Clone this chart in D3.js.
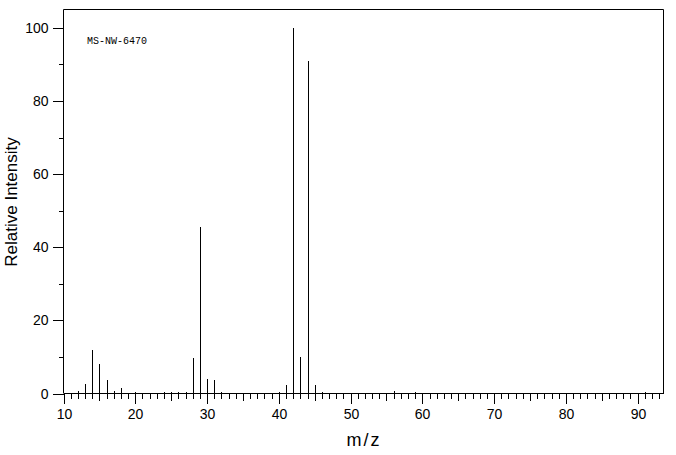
<!DOCTYPE html>
<html><head><meta charset="utf-8">
<script src="https://cdn.jsdelivr.net/npm/d3@7/dist/d3.min.js"></script>
<style>
html,body{margin:0;padding:0;background:#fff;}
svg text{fill:#000;}
</style></head>
<body><svg id="c" width="676" height="455"></svg>
<script>
const mz =        [12, 13, 14,   15,  16,  17,  18,  20,  24,  25,  26,  27,  28,  29,   30,  31,  32,  40,  41,  42,  43,  44,   45,  46,  56,  59,  91];
const intensity = [0.6,2.5,11.8, 8.0, 3.8, 0.8, 1.6, 0.3, 0.3, 0.3, 0.3, 0.3, 9.7, 45.5, 3.9, 3.6, 0.3, 0.3, 2.2, 100, 9.9, 90.9, 2.2, 0.4, 0.7, 0.4, 0.3];
const xMajorTicks = [10,20,30,40,50,60,70,80,90];
const yMajorTicks = [0,20,40,60,80,100];
const title = "MS-NW-6470";
const xLabel = "m/z";
const yLabel = "Relative Intensity";

const svg = d3.select("#c");
const L = 63.5, R = 663.5, T = 9.5, B = 393.5;
const x = d3.scaleLinear().domain([10, 93.6]).range([L, R]);
const y = d3.scaleLinear().domain([0, 105]).range([B, T]);

const font = "'Liberation Sans', Arial, sans-serif";

// frame
svg.append("path")
  .attr("d", `M${L},${B}V${T}H${R}V${B}`)
  .attr("fill","none").attr("stroke","#000").attr("stroke-width",1);

// peaks
svg.append("g").selectAll("line").data(mz).join("line")
  .attr("x1", d => Math.round(x(d)) + 0.5)
  .attr("x2", d => Math.round(x(d)) + 0.5)
  .attr("y1", y(0))
  .attr("y2", (d,i) => y(intensity[i]))
  .attr("stroke","#000").attr("stroke-width",1).attr("shape-rendering","crispEdges");

// x axis ticks
function xAxisGroup(vals, size, labels){
  const g = svg.append("g").attr("transform",`translate(0,${B})`)
    .call(d3.axisBottom(x).tickValues(vals).tickSize(size).tickFormat(labels ? d3.format("d") : ""));
  g.select(".domain").remove();
  g.selectAll(".tick line").attr("stroke","#000").attr("shape-rendering","crispEdges");
  g.selectAll(".tick").attr("transform", d => `translate(${Math.round(x(d))+0.5},0)`);
  g.selectAll("text").attr("font-family", font).attr("font-size", 14).attr("dy","0.72em").attr("y", size + 5);
  return g;
}
const minor = d3.range(11, 94).filter(d => d % 5 !== 0);
const mid = d3.range(15, 94, 10);
xAxisGroup(minor, 5, false);
xAxisGroup(mid, 7, false);
xAxisGroup(xMajorTicks, 10, true);

// x baseline
svg.append("line").attr("x1", L).attr("x2", R).attr("y1", B).attr("y2", B)
  .attr("stroke","#000").attr("shape-rendering","crispEdges");

// y axis
function yAxisGroup(vals, size, labels){
  const g = svg.append("g").attr("transform",`translate(${L},0)`)
    .call(d3.axisLeft(y).tickValues(vals).tickSize(size).tickFormat(labels ? d3.format("d") : ""));
  g.select(".domain").remove();
  g.selectAll(".tick").attr("transform", d => `translate(0,${Math.round(y(d))+0.5})`);
  g.selectAll(".tick line").attr("stroke","#000").attr("shape-rendering","crispEdges");
  g.selectAll("text").attr("font-family", font).attr("font-size", 14).attr("x", -size - 4);
  return g;
}
yAxisGroup([10,30,50,70,90], 5, false);
yAxisGroup(yMajorTicks, 11, true);

// title
svg.append("text").attr("x", 87).attr("y", 44).attr("font-family","'Liberation Mono', monospace")
  .attr("font-size", 10).text(title);

// axis labels
svg.append("text").attr("x", 364).attr("y", 446).attr("text-anchor","middle")
  .attr("font-family", font).attr("font-size", 18).attr("letter-spacing", 2).text(xLabel);
svg.append("text").attr("transform","translate(17,202) rotate(-90)").attr("text-anchor","middle")
  .attr("font-family", font).attr("font-size", 17).text(yLabel);
</script></body></html>
